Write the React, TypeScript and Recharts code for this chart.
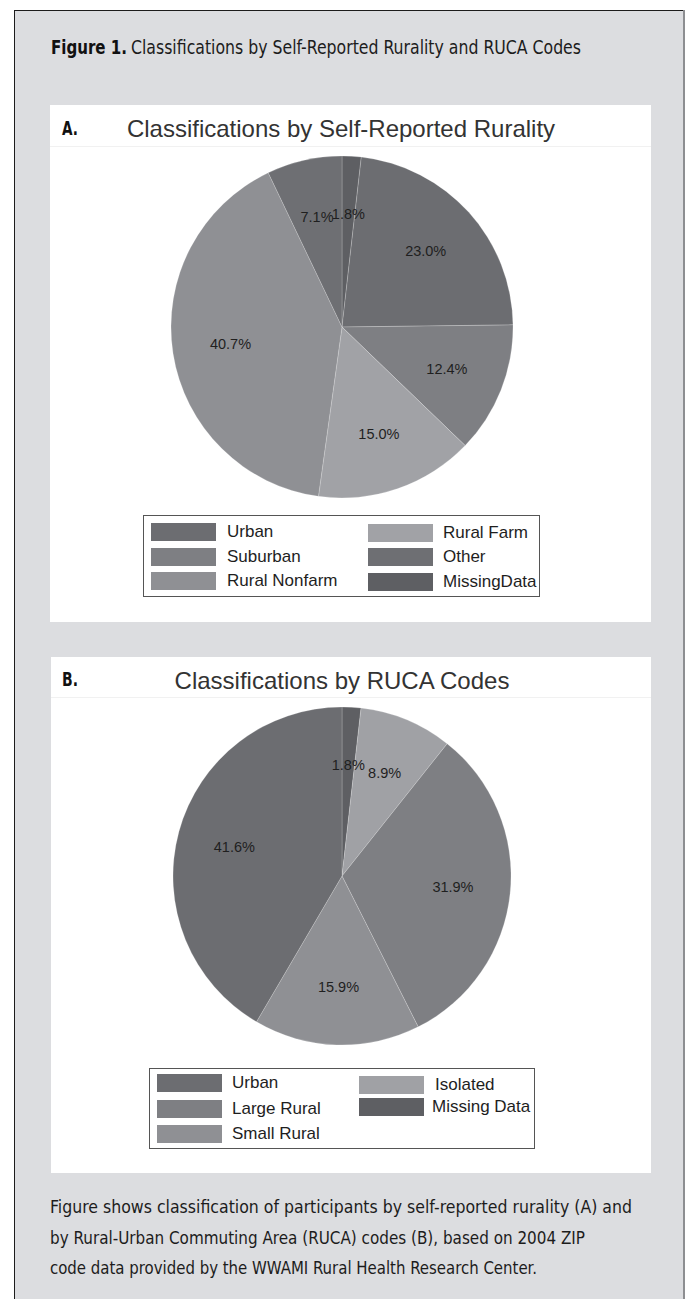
import React from 'react';
import { PieChart, Pie, Cell, Legend } from 'recharts';

// ---------- data ----------
const ruralityNames = ['MissingData', 'Urban', 'Suburban', 'Rural Farm', 'Rural Nonfarm', 'Other'];
const ruralityValues = [1.8, 23.0, 12.4, 15.0, 40.7, 7.1];
const ruralityLegendOrder = ['Urban', 'Suburban', 'Rural Nonfarm', 'Rural Farm', 'Other', 'MissingData'];

const rucaNames = ['Missing Data', 'Isolated', 'Large Rural', 'Small Rural', 'Urban'];
const rucaValues = [1.8, 8.9, 31.9, 15.9, 41.6];
const rucaLegendOrder = ['Urban', 'Large Rural', 'Small Rural', 'Isolated', 'Missing Data'];

const headerBold = 'Figure 1.';
const headerText = 'Classifications by Self-Reported Rurality and RUCA Codes';
const titleA = 'Classifications by Self-Reported Rurality';
const titleB = 'Classifications by RUCA Codes';
const captionLines = [
  'Figure shows classification of participants by self-reported rurality (A) and',
  'by Rural-Urban Commuting Area (RUCA) codes (B), based on 2004 ZIP',
  'code data provided by the WWAMI Rural Health Research Center.',
];

// ---------- styles ----------
const ruralityColors = ['#5e5f63', '#6c6d71', '#7e7f83', '#a1a2a6', '#8f9094', '#6e6f73'];
const rucaColors = ['#5e5f63', '#a0a1a5', '#7e7f83', '#8f9094', '#6c6d71'];

const ruralityData = ruralityNames.map((name, i) => ({ name, value: ruralityValues[i] }));
const rucaData = rucaNames.map((name, i) => ({ name, value: rucaValues[i] }));

const SANS = "'Liberation Sans', Arial, Helvetica, sans-serif";
const NARROW = "'Liberation Sans Narrow', 'DejaVu Sans Condensed', 'Roboto', sans-serif";
const RADIAN = Math.PI / 180;

const renderLabel = (props: any) => {
  const { cx, cy, midAngle, outerRadius, value } = props;
  const r = outerRadius * 0.66;
  const x = cx + r * Math.cos(-midAngle * RADIAN);
  const y = cy + r * Math.sin(-midAngle * RADIAN);
  return (
    <text
      x={x}
      y={y}
      textAnchor="middle"
      dominantBaseline="central"
      fontFamily={SANS}
      fontSize={14.5}
      fill="#1f1f1f"
    >
      {`${Number(value).toFixed(1)}%`}
    </text>
  );
};

type LegendLayout = {
  cols: { swatchX: number; textX: number[]; rowTops: number[] }[];
  perCol: number;
};

const makeLegend = (order: string[], names: string[], colors: string[], layout: LegendLayout) =>
  (props: any) => {
    const payload: any[] = props.payload || [];
    return (
      <div
        style={{
          position: 'relative',
          width: '100%',
          height: '100%',
          border: '1px solid #555',
          boxSizing: 'border-box',
          background: '#fff',
        }}
      >
        {order.map((name, i) => {
          const col = layout.cols[Math.floor(i / layout.perCol)];
          const row = i % layout.perCol;
          const entry = payload.find((p) => p.value === name);
          const color = entry?.color || colors[names.indexOf(name)];
          const top = col.rowTops[row];
          return (
            <React.Fragment key={name}>
              <div
                style={{
                  position: 'absolute',
                  left: col.swatchX,
                  top,
                  width: 65,
                  height: 18,
                  background: color,
                }}
              />
              <div
                style={{
                  position: 'absolute',
                  left: col.textX[row],
                  top: top - 1,
                  height: 20,
                  lineHeight: '20px',
                  fontFamily: SANS,
                  fontSize: 17,
                  color: '#1e1e1e',
                  whiteSpace: 'nowrap',
                }}
              >
                {name}
              </div>
            </React.Fragment>
          );
        })}
      </div>
    );
  };

const legendA = makeLegend(ruralityLegendOrder, ruralityNames, ruralityColors, {
  perCol: 3,
  cols: [
    { swatchX: 7, textX: [83, 83, 83], rowTops: [7, 32, 56] },
    { swatchX: 224, textX: [299, 299, 299], rowTops: [8, 32, 57] },
  ],
});

const legendB = makeLegend(rucaLegendOrder, rucaNames, rucaColors, {
  perCol: 3,
  cols: [
    { swatchX: 7, textX: [82, 82, 82], rowTops: [5, 31, 56] },
    { swatchX: 209, textX: [285, 282], rowTops: [7, 29] },
  ],
});

function PiePanel(props: {
  data: { name: string; value: number }[];
  colors: string[];
  left: number;
  top: number;
  width: number;
  height: number;
  cx: number;
  cy: number;
  r: number;
  legend: any;
  legendBox: { left: number; top: number; width: number; height: number };
  ruleY: number;
}) {
  const { data, colors, left, top, width, height, cx, cy, r, legend, legendBox, ruleY } = props;
  return (
    <div style={{ position: 'absolute', left, top, width, height, background: '#fff' }}>
      <div
        style={{ position: 'absolute', left: 0, top: ruleY, width, height: 1, background: '#f1f1f1' }}
      />
      <PieChart width={width} height={height} margin={{ top: 0, right: 0, bottom: 0, left: 0 }}>
        <Pie
          data={data}
          dataKey="value"
          nameKey="name"
          cx={cx}
          cy={cy}
          outerRadius={r}
          startAngle={90}
          endAngle={-270}
          label={renderLabel}
          labelLine={false}
          isAnimationActive={false}
          stroke="rgba(255,255,255,0.25)"
          strokeWidth={0.8}
        >
          {data.map((d, i) => (
            <Cell key={d.name} fill={colors[i]} />
          ))}
        </Pie>
        <Legend
          content={legend}
          wrapperStyle={{
            position: 'absolute',
            left: legendBox.left,
            top: legendBox.top,
            width: legendBox.width,
            height: legendBox.height,
          }}
        />
      </PieChart>
    </div>
  );
}

export default function App() {
  return (
    <div
      style={{
        position: 'absolute',
        left: 0,
        top: 0,
        width: 685,
        height: 1299,
        background: '#ffffff',
        overflow: 'hidden',
      }}
    >
      <div
        style={{
          position: 'absolute',
          left: 14,
          top: 10,
          width: 671,
          height: 1289,
          background: '#dcdde0',
          borderLeft: '1.5px solid #1c1c1c',
          borderTop: '1.5px solid #1c1c1c',
          boxSizing: 'border-box',
        }}
      />
      <div
        style={{ position: 'absolute', left: 683, top: 10, width: 2, height: 1289, background: '#8d8e91' }}
      />

      <PiePanel
        data={ruralityData}
        colors={ruralityColors}
        left={50}
        top={105}
        width={601}
        height={517}
        cx={292}
        cy={222}
        r={171}
        legend={legendA}
        legendBox={{ left: 93, top: 410, width: 397, height: 82 }}
        ruleY={41}
      />

      <PiePanel
        data={rucaData}
        colors={rucaColors}
        left={51}
        top={657}
        width={600}
        height={516}
        cx={291}
        cy={219}
        r={169}
        legend={legendB}
        legendBox={{ left: 98, top: 411, width: 386, height: 81 }}
        ruleY={40}
      />

      <svg
        width={685}
        height={1299}
        style={{ position: 'absolute', left: 0, top: 0, pointerEvents: 'none' }}
      >
        <text
          x={51}
          y={54}
          fontFamily={NARROW}
          fontWeight="bold"
          fontSize={19}
          fill="#111"
          textLength={76}
          lengthAdjust="spacingAndGlyphs"
        >
          {headerBold}
        </text>
        <text
          x={131}
          y={54}
          fontFamily={NARROW}
          fontSize={19}
          fill="#1c1c1c"
          textLength={450}
          lengthAdjust="spacingAndGlyphs"
        >
          {headerText}
        </text>

        <text
          x={62}
          y={135}
          fontFamily={NARROW}
          fontWeight="bold"
          fontSize={20}
          fill="#111"
          textLength={16}
          lengthAdjust="spacingAndGlyphs"
        >
          A.
        </text>
        <text x={341} y={137} textAnchor="middle" fontFamily={SANS} fontSize={24} fill="#333">
          {titleA}
        </text>

        <text
          x={62}
          y={686}
          fontFamily={NARROW}
          fontWeight="bold"
          fontSize={20}
          fill="#111"
          textLength={16}
          lengthAdjust="spacingAndGlyphs"
        >
          B.
        </text>
        <text x={342} y={689} textAnchor="middle" fontFamily={SANS} fontSize={24} fill="#333">
          {titleB}
        </text>

        {captionLines.map((line, i) => (
          <text
            key={i}
            x={50}
            y={1213 + i * 30.5}
            fontFamily={NARROW}
            fontSize={18}
            fill="#1c1c1c"
            textLength={[582, 535, 487][i]}
            lengthAdjust="spacingAndGlyphs"
          >
            {line}
          </text>
        ))}
      </svg>
    </div>
  );
}
